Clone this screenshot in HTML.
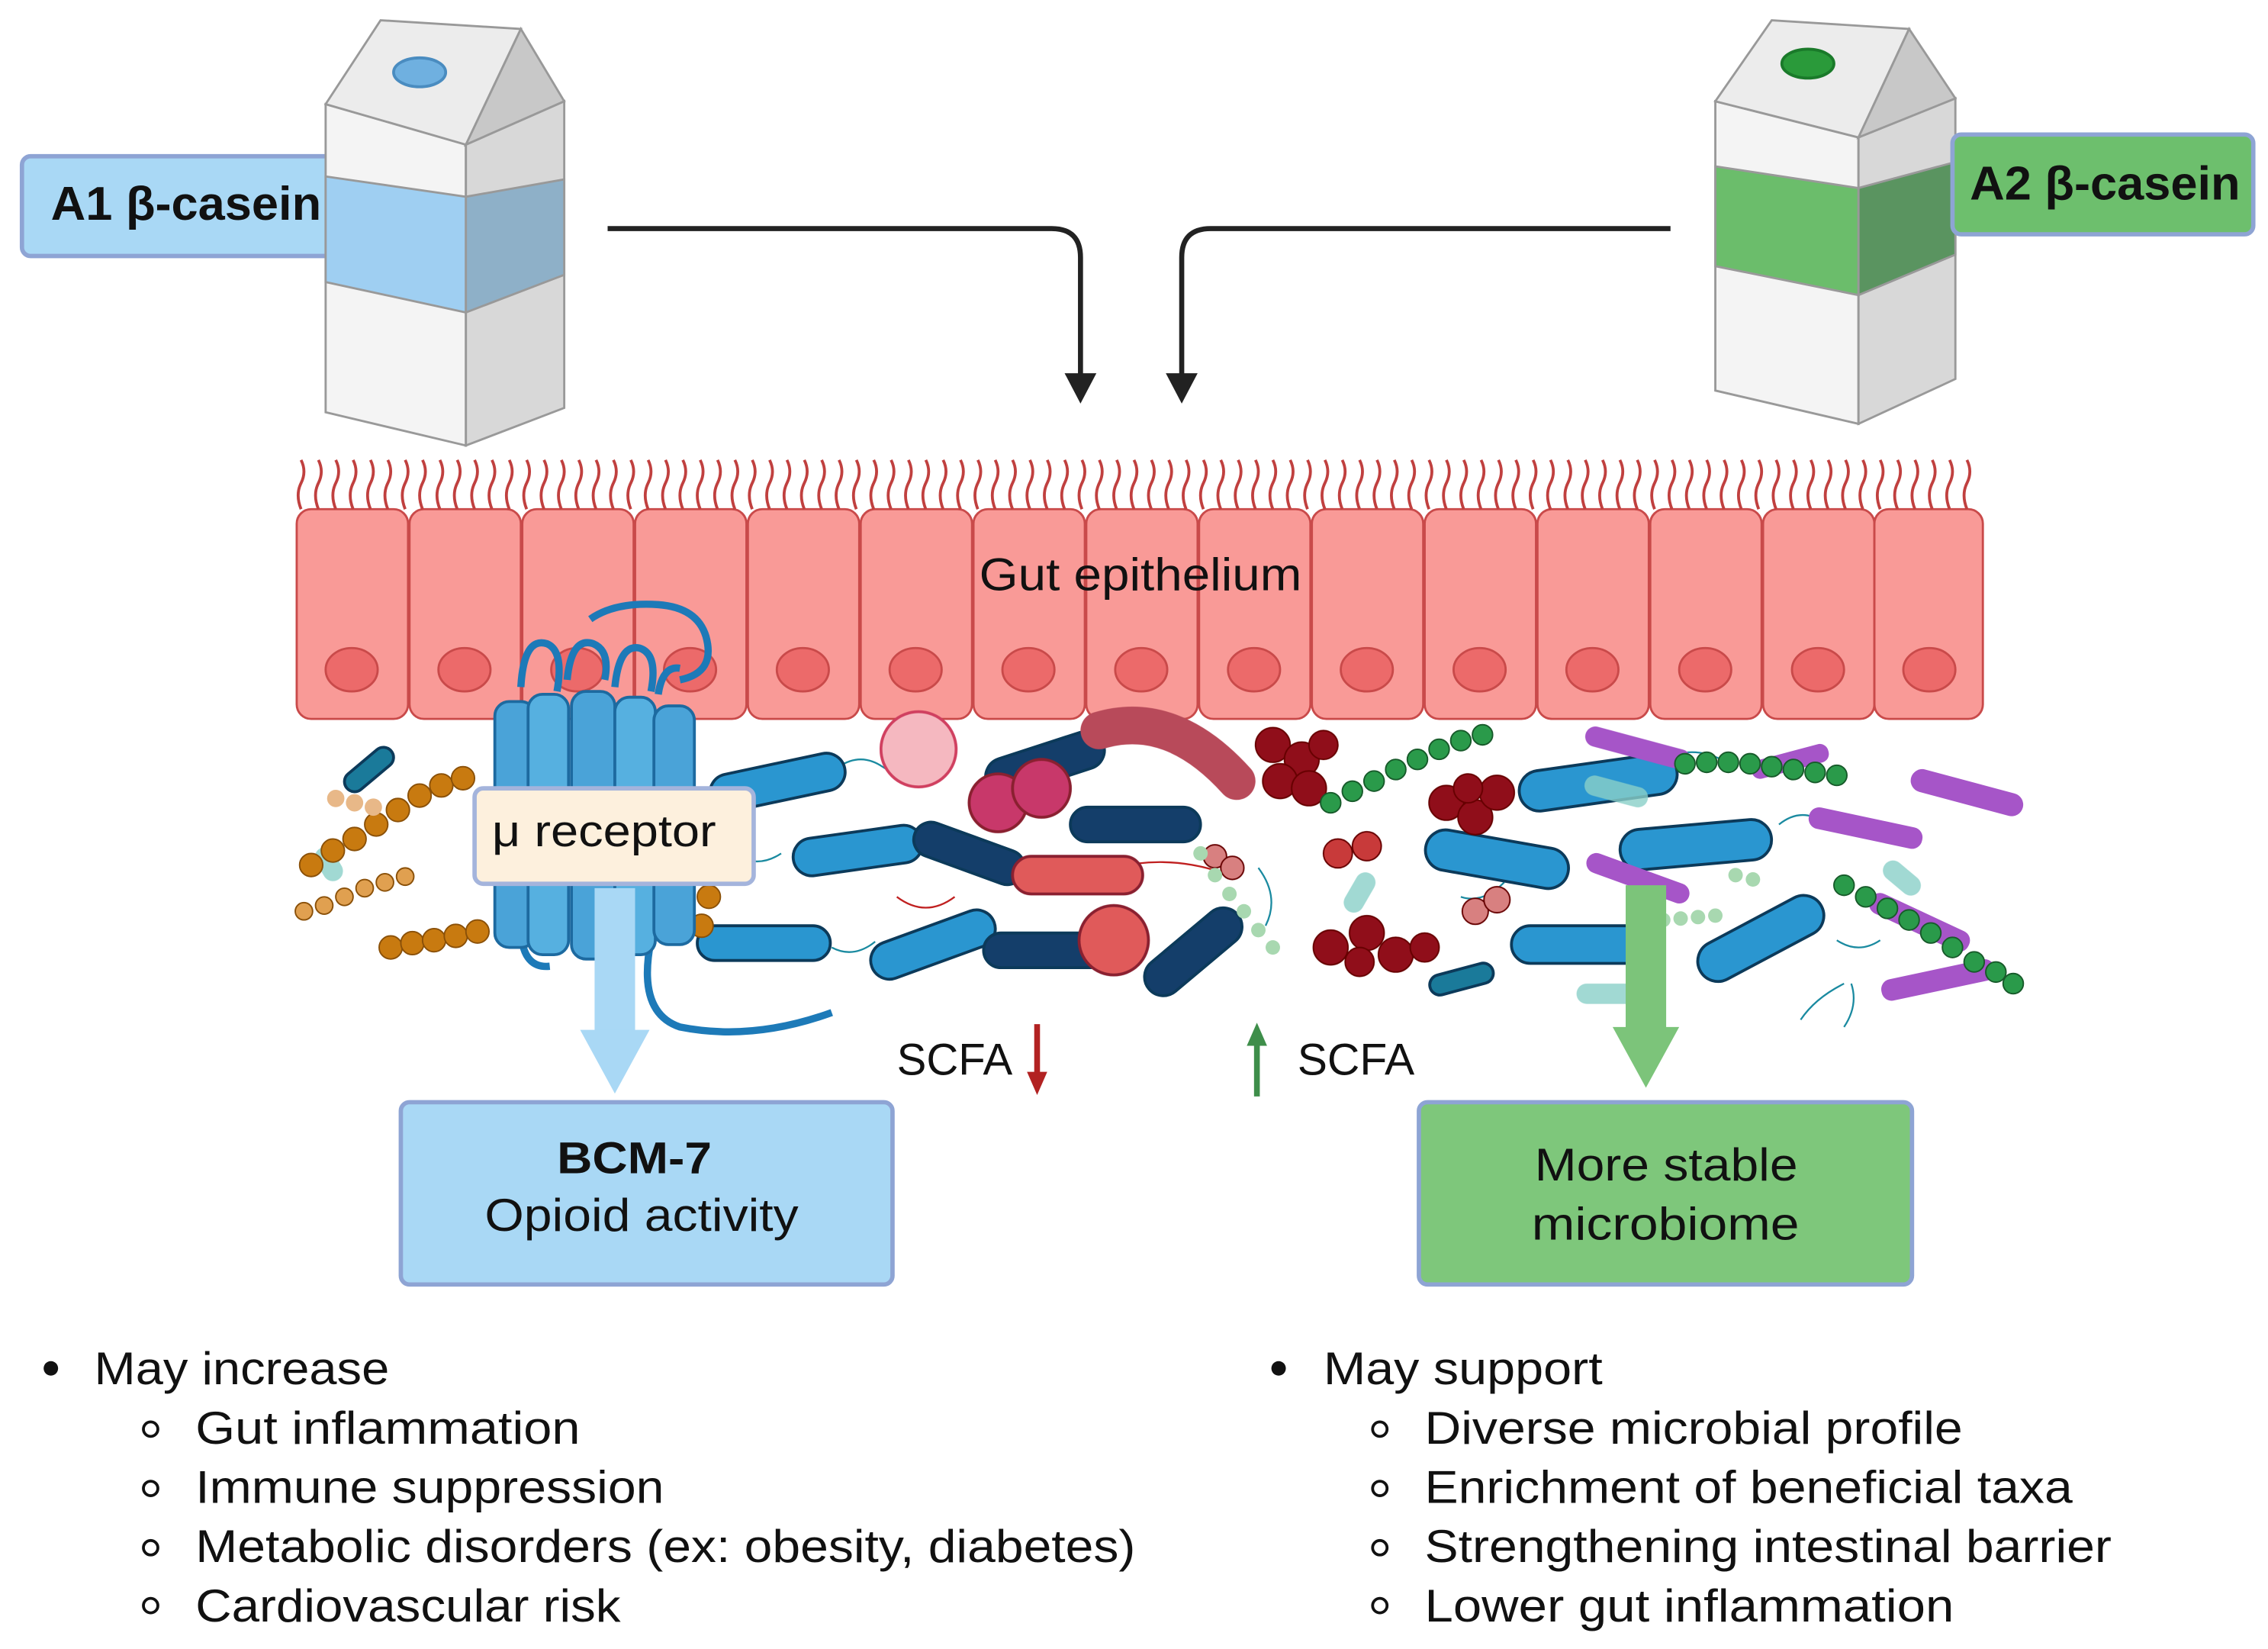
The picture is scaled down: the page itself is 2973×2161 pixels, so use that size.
<!DOCTYPE html>
<html><head><meta charset="utf-8"><style>
html,body{margin:0;padding:0;background:#fff}
svg{display:block}
text{font-family:"Liberation Sans",sans-serif;fill:#111}
</style></head><body>
<svg width="2973" height="2161" viewBox="0 0 1568 1140" xmlns="http://www.w3.org/2000/svg">
<rect width="1568" height="1140" fill="#fff"/>

<!-- A1 label -->
<rect x="15" y="108" width="225" height="69" rx="6" fill="#a9d8f5" stroke="#8ea4d4" stroke-width="3"/>
<text x="35" y="152" font-size="33" font-weight="bold" textLength="187" lengthAdjust="spacingAndGlyphs">A1 β-casein</text>

<!-- Left carton -->
<g stroke="#999" stroke-width="1.5">
<polygon points="225,72 322,100 322,308 225,285" fill="#f4f4f4"/>
<polygon points="322,100 390,70 390,282 322,308" fill="#d8d8d8"/>
<polygon points="225,72 263,14 360,20 322,100" fill="#ececec"/>
<polygon points="322,100 360,20 390,70" fill="#c8c8c8"/>
<polygon points="225,122 322,136 322,216 225,195" fill="#9fcff2"/>
<polygon points="322,136 390,124 390,190 322,216" fill="#8eb0c8"/>
</g>
<ellipse cx="290" cy="50" rx="18" ry="10" fill="#6fb0e0" stroke="#4a8cc0" stroke-width="2"/>

<!-- Right carton -->
<g stroke="#999" stroke-width="1.5">
<polygon points="1186,70 1285,95 1285,293 1186,270" fill="#f4f4f4"/>
<polygon points="1285,95 1352,68 1352,262 1285,293" fill="#d8d8d8"/>
<polygon points="1186,70 1225,14 1320,20 1285,95" fill="#ececec"/>
<polygon points="1285,95 1320,20 1352,68" fill="#c8c8c8"/>
<polygon points="1186,115 1285,130 1285,204 1186,184" fill="#6bbd6b"/>
<polygon points="1285,130 1352,112 1352,176 1285,204" fill="#5a9460"/>
</g>
<ellipse cx="1250" cy="44" rx="18" ry="10" fill="#2a9a3a" stroke="#1a7a2a" stroke-width="2"/>

<!-- A2 label -->
<rect x="1350" y="93" width="208" height="69" rx="6" fill="#6dbf6d" stroke="#8ea4d4" stroke-width="3"/>
<text x="1362" y="138" font-size="33" font-weight="bold" textLength="187" lengthAdjust="spacingAndGlyphs">A2 β-casein</text>

<!-- Arrows from cartons -->
<path d="M420,158 H727 Q747,158 747,178 V262" fill="none" stroke="#222" stroke-width="3.5"/>
<polygon points="736,258 758,258 747,279" fill="#222"/>
<path d="M1155,158 H837 Q817,158 817,178 V262" fill="none" stroke="#222" stroke-width="3.5"/>
<polygon points="806,258 828,258 817,279" fill="#222"/>

<!-- Cells -->
<g stroke="#c94a4a" stroke-width="1.5">
<rect x="205" y="352" width="77" height="145" rx="10" fill="#f99a97"/>
<rect x="283" y="352" width="77" height="145" rx="10" fill="#f99a97"/>
<rect x="361" y="352" width="77" height="145" rx="10" fill="#f99a97"/>
<rect x="439" y="352" width="77" height="145" rx="10" fill="#f99a97"/>
<rect x="517" y="352" width="77" height="145" rx="10" fill="#f99a97"/>
<rect x="595" y="352" width="77" height="145" rx="10" fill="#f99a97"/>
<rect x="673" y="352" width="77" height="145" rx="10" fill="#f99a97"/>
<rect x="751" y="352" width="77" height="145" rx="10" fill="#f99a97"/>
<rect x="829" y="352" width="77" height="145" rx="10" fill="#f99a97"/>
<rect x="907" y="352" width="77" height="145" rx="10" fill="#f99a97"/>
<rect x="985" y="352" width="77" height="145" rx="10" fill="#f99a97"/>
<rect x="1063" y="352" width="77" height="145" rx="10" fill="#f99a97"/>
<rect x="1141" y="352" width="77" height="145" rx="10" fill="#f99a97"/>
<rect x="1219" y="352" width="77" height="145" rx="10" fill="#f99a97"/>
<rect x="1296" y="352" width="75" height="145" rx="10" fill="#f99a97"/>
<g fill="#ec6a6a">
<ellipse cx="243" cy="463" rx="18" ry="15"/><ellipse cx="321" cy="463" rx="18" ry="15"/><ellipse cx="399" cy="463" rx="18" ry="15"/><ellipse cx="477" cy="463" rx="18" ry="15"/><ellipse cx="555" cy="463" rx="18" ry="15"/><ellipse cx="633" cy="463" rx="18" ry="15"/><ellipse cx="711" cy="463" rx="18" ry="15"/><ellipse cx="789" cy="463" rx="18" ry="15"/><ellipse cx="867" cy="463" rx="18" ry="15"/><ellipse cx="945" cy="463" rx="18" ry="15"/><ellipse cx="1023" cy="463" rx="18" ry="15"/><ellipse cx="1101" cy="463" rx="18" ry="15"/><ellipse cx="1179" cy="463" rx="18" ry="15"/><ellipse cx="1257" cy="463" rx="18" ry="15"/><ellipse cx="1334" cy="463" rx="18" ry="15"/>
</g>
</g>
<path stroke="#c0403f" stroke-width="2" fill="none" d="M208,352 q-4,-10 0,-18 q4,-8 0,-16 M220,352 q-4,-10 0,-18 q4,-8 0,-16 M232,352 q-4,-10 0,-18 q4,-8 0,-16 M244,352 q-4,-10 0,-18 q4,-8 0,-16 M256,352 q-4,-10 0,-18 q4,-8 0,-16 M268,352 q-4,-10 0,-18 q4,-8 0,-16 M280,352 q-4,-10 0,-18 q4,-8 0,-16 M292,352 q-4,-10 0,-18 q4,-8 0,-16 M304,352 q-4,-10 0,-18 q4,-8 0,-16 M316,352 q-4,-10 0,-18 q4,-8 0,-16 M328,352 q-4,-10 0,-18 q4,-8 0,-16 M340,352 q-4,-10 0,-18 q4,-8 0,-16 M352,352 q-4,-10 0,-18 q4,-8 0,-16 M364,352 q-4,-10 0,-18 q4,-8 0,-16 M376,352 q-4,-10 0,-18 q4,-8 0,-16 M388,352 q-4,-10 0,-18 q4,-8 0,-16 M400,352 q-4,-10 0,-18 q4,-8 0,-16 M412,352 q-4,-10 0,-18 q4,-8 0,-16 M424,352 q-4,-10 0,-18 q4,-8 0,-16 M436,352 q-4,-10 0,-18 q4,-8 0,-16 M448,352 q-4,-10 0,-18 q4,-8 0,-16 M460,352 q-4,-10 0,-18 q4,-8 0,-16 M472,352 q-4,-10 0,-18 q4,-8 0,-16 M484,352 q-4,-10 0,-18 q4,-8 0,-16 M496,352 q-4,-10 0,-18 q4,-8 0,-16 M508,352 q-4,-10 0,-18 q4,-8 0,-16 M520,352 q-4,-10 0,-18 q4,-8 0,-16 M532,352 q-4,-10 0,-18 q4,-8 0,-16 M544,352 q-4,-10 0,-18 q4,-8 0,-16 M556,352 q-4,-10 0,-18 q4,-8 0,-16 M568,352 q-4,-10 0,-18 q4,-8 0,-16 M580,352 q-4,-10 0,-18 q4,-8 0,-16 M592,352 q-4,-10 0,-18 q4,-8 0,-16 M604,352 q-4,-10 0,-18 q4,-8 0,-16 M616,352 q-4,-10 0,-18 q4,-8 0,-16 M628,352 q-4,-10 0,-18 q4,-8 0,-16 M640,352 q-4,-10 0,-18 q4,-8 0,-16 M652,352 q-4,-10 0,-18 q4,-8 0,-16 M664,352 q-4,-10 0,-18 q4,-8 0,-16 M676,352 q-4,-10 0,-18 q4,-8 0,-16 M688,352 q-4,-10 0,-18 q4,-8 0,-16 M700,352 q-4,-10 0,-18 q4,-8 0,-16 M712,352 q-4,-10 0,-18 q4,-8 0,-16 M724,352 q-4,-10 0,-18 q4,-8 0,-16 M736,352 q-4,-10 0,-18 q4,-8 0,-16 M748,352 q-4,-10 0,-18 q4,-8 0,-16 M760,352 q-4,-10 0,-18 q4,-8 0,-16 M772,352 q-4,-10 0,-18 q4,-8 0,-16 M784,352 q-4,-10 0,-18 q4,-8 0,-16 M796,352 q-4,-10 0,-18 q4,-8 0,-16 M808,352 q-4,-10 0,-18 q4,-8 0,-16 M820,352 q-4,-10 0,-18 q4,-8 0,-16 M832,352 q-4,-10 0,-18 q4,-8 0,-16 M844,352 q-4,-10 0,-18 q4,-8 0,-16 M856,352 q-4,-10 0,-18 q4,-8 0,-16 M868,352 q-4,-10 0,-18 q4,-8 0,-16 M880,352 q-4,-10 0,-18 q4,-8 0,-16 M892,352 q-4,-10 0,-18 q4,-8 0,-16 M904,352 q-4,-10 0,-18 q4,-8 0,-16 M916,352 q-4,-10 0,-18 q4,-8 0,-16 M928,352 q-4,-10 0,-18 q4,-8 0,-16 M940,352 q-4,-10 0,-18 q4,-8 0,-16 M952,352 q-4,-10 0,-18 q4,-8 0,-16 M964,352 q-4,-10 0,-18 q4,-8 0,-16 M976,352 q-4,-10 0,-18 q4,-8 0,-16 M988,352 q-4,-10 0,-18 q4,-8 0,-16 M1000,352 q-4,-10 0,-18 q4,-8 0,-16 M1012,352 q-4,-10 0,-18 q4,-8 0,-16 M1024,352 q-4,-10 0,-18 q4,-8 0,-16 M1036,352 q-4,-10 0,-18 q4,-8 0,-16 M1048,352 q-4,-10 0,-18 q4,-8 0,-16 M1060,352 q-4,-10 0,-18 q4,-8 0,-16 M1072,352 q-4,-10 0,-18 q4,-8 0,-16 M1084,352 q-4,-10 0,-18 q4,-8 0,-16 M1096,352 q-4,-10 0,-18 q4,-8 0,-16 M1108,352 q-4,-10 0,-18 q4,-8 0,-16 M1120,352 q-4,-10 0,-18 q4,-8 0,-16 M1132,352 q-4,-10 0,-18 q4,-8 0,-16 M1144,352 q-4,-10 0,-18 q4,-8 0,-16 M1156,352 q-4,-10 0,-18 q4,-8 0,-16 M1168,352 q-4,-10 0,-18 q4,-8 0,-16 M1180,352 q-4,-10 0,-18 q4,-8 0,-16 M1192,352 q-4,-10 0,-18 q4,-8 0,-16 M1204,352 q-4,-10 0,-18 q4,-8 0,-16 M1216,352 q-4,-10 0,-18 q4,-8 0,-16 M1228,352 q-4,-10 0,-18 q4,-8 0,-16 M1240,352 q-4,-10 0,-18 q4,-8 0,-16 M1252,352 q-4,-10 0,-18 q4,-8 0,-16 M1264,352 q-4,-10 0,-18 q4,-8 0,-16 M1276,352 q-4,-10 0,-18 q4,-8 0,-16 M1288,352 q-4,-10 0,-18 q4,-8 0,-16 M1300,352 q-4,-10 0,-18 q4,-8 0,-16 M1312,352 q-4,-10 0,-18 q4,-8 0,-16 M1324,352 q-4,-10 0,-18 q4,-8 0,-16 M1336,352 q-4,-10 0,-18 q4,-8 0,-16 M1348,352 q-4,-10 0,-18 q4,-8 0,-16 M1360,352 q-4,-10 0,-18 q4,-8 0,-16"/>
<text x="677" y="408" font-size="32" textLength="223" lengthAdjust="spacingAndGlyphs">Gut epithelium</text>

<!-- bacteria -->
<g stroke="#1a8aa0" stroke-width="1.2" fill="none">
<path d="M580,530 q15,-10 30,0 q15,10 30,-2 M540,590 q-15,10 -30,2 M575,655 q15,8 30,-4 M1150,525 q20,-10 40,0 M1230,570 q15,-12 30,-2 M1270,650 q15,10 30,0 M1040,610 q-15,15 -30,10 M1280,680 q5,15 -5,30 M1275,680 q-20,10 -30,25 M870,600 q15,20 5,40"/>
<path d="M690,600 q40,10 80,0 q40,-10 80,5 M620,620 q20,15 40,0" stroke="#c02020"/>
</g>
<g stroke="#0c3a5a" stroke-width="2">
<rect x="490" y="528" width="95" height="26" rx="13" fill="#2a96d0" transform="rotate(-12 537 541)"/>
<rect x="548" y="575" width="90" height="26" rx="13" fill="#2a96d0" transform="rotate(-8 593 588)"/>
<rect x="482" y="640" width="92" height="24" rx="12" fill="#2a96d0"/>
<rect x="600" y="640" width="90" height="26" rx="13" fill="#2a96d0" transform="rotate(-20 645 653)"/>
<rect x="985" y="580" width="100" height="28" rx="14" fill="#2a96d0" transform="rotate(10 1035 594)"/>
<rect x="1050" y="527" width="110" height="28" rx="14" fill="#2a96d0" transform="rotate(-8 1105 541)"/>
<rect x="1120" y="570" width="105" height="28" rx="14" fill="#2a96d0" transform="rotate(-5 1172 584)"/>
<rect x="1045" y="640" width="100" height="26" rx="13" fill="#2a96d0"/>
<rect x="1170" y="635" width="95" height="28" rx="14" fill="#2a96d0" transform="rotate(-28 1217 649)"/>
<rect x="235" y="525" width="40" height="14" rx="7" fill="#1a7a9a" transform="rotate(-40 255 532)"/>
<rect x="988" y="670" width="45" height="14" rx="7" fill="#1a7a9a" transform="rotate(-15 1010 677)"/>
<rect x="680" y="515" width="85" height="26" rx="13" fill="#143e6a" transform="rotate(-18 722 528)"/>
<rect x="740" y="558" width="90" height="24" rx="12" fill="#143e6a"/>
<rect x="630" y="578" width="80" height="24" rx="12" fill="#143e6a" transform="rotate(20 670 590)"/>
<rect x="680" y="645" width="85" height="24" rx="12" fill="#143e6a"/>
<rect x="785" y="645" width="80" height="26" rx="13" fill="#143e6a" transform="rotate(-40 825 658)"/>
</g>
<g fill="#8ad0c8" opacity="0.8">
<rect x="215" y="590" width="25" height="14" rx="7" transform="rotate(60 227 597)"/>
<rect x="1095" y="540" width="45" height="14" rx="7" transform="rotate(15 1117 547)"/>
<rect x="1090" y="680" width="45" height="14" rx="7"/>
<rect x="1300" y="600" width="30" height="14" rx="7" transform="rotate(40 1315 607)"/>
<rect x="925" y="610" width="30" height="14" rx="7" transform="rotate(-60 940 617)"/>
</g>
<g stroke="#8a2030" stroke-width="2">
<path d="M760,505 Q810,490 855,540" stroke="#b84a5a" stroke-width="26" stroke-linecap="round" fill="none"/>
<rect x="700" y="592" width="90" height="26" rx="13" fill="#e05a5a"/>
<circle cx="770" cy="650" r="24" fill="#e05a5a"/>
<circle cx="690" cy="555" r="20" fill="#c8386a"/>
<circle cx="720" cy="545" r="20" fill="#c8386a"/>
<circle cx="635" cy="518" r="26" fill="#f5b8c0" stroke="#d04060"/>
</g>
<g fill="#900e1a" stroke="#600" stroke-width="1">
<circle cx="880" cy="515" r="12"/><circle cx="900" cy="525" r="12"/><circle cx="885" cy="540" r="12"/><circle cx="905" cy="545" r="12"/><circle cx="915" cy="515" r="10"/>
<circle cx="1000" cy="555" r="12"/><circle cx="1020" cy="565" r="12"/><circle cx="1035" cy="548" r="12"/><circle cx="1015" cy="545" r="10"/>
<circle cx="920" cy="655" r="12"/><circle cx="945" cy="645" r="12"/><circle cx="965" cy="660" r="12"/><circle cx="940" cy="665" r="10"/><circle cx="985" cy="655" r="10"/>
<circle cx="925" cy="590" r="10" fill="#c83a3a"/><circle cx="945" cy="585" r="10" fill="#c83a3a"/>
<circle cx="1020" cy="630" r="9" fill="#d88080"/><circle cx="1035" cy="622" r="9" fill="#d88080"/><circle cx="840" cy="592" r="8" fill="#d88080"/><circle cx="852" cy="600" r="8" fill="#d88080"/>
</g>
<g fill="#a655c8" stroke="none">
<rect x="1095" y="510" width="75" height="14" rx="7" transform="rotate(15 1132 517)"/>
<rect x="1320" y="540" width="80" height="16" rx="8" transform="rotate(15 1360 548)"/>
<rect x="1250" y="565" width="80" height="15" rx="7" transform="rotate(12 1290 572)"/>
<rect x="1290" y="630" width="75" height="15" rx="7" transform="rotate(25 1327 637)"/>
<rect x="1300" y="670" width="80" height="15" rx="7" transform="rotate(-12 1340 677)"/>
<rect x="1095" y="600" width="75" height="14" rx="7" transform="rotate(20 1132 607)"/>
<rect x="1210" y="520" width="55" height="13" rx="6" transform="rotate(-15 1237 526)"/>
</g>
<g fill="#2a9a4a" stroke="#175a2a" stroke-width="1">
<circle cx="920" cy="555" r="7"/><circle cx="935" cy="547" r="7"/><circle cx="950" cy="540" r="7"/><circle cx="965" cy="532" r="7"/><circle cx="980" cy="525" r="7"/><circle cx="995" cy="518" r="7"/><circle cx="1010" cy="512" r="7"/><circle cx="1025" cy="508" r="7"/>
<circle cx="1165" cy="528" r="7"/><circle cx="1180" cy="527" r="7"/><circle cx="1195" cy="527" r="7"/><circle cx="1210" cy="528" r="7"/><circle cx="1225" cy="530" r="7"/><circle cx="1240" cy="532" r="7"/><circle cx="1255" cy="534" r="7"/><circle cx="1270" cy="536" r="7"/>
<circle cx="1275" cy="612" r="7"/><circle cx="1290" cy="620" r="7"/><circle cx="1305" cy="628" r="7"/><circle cx="1320" cy="636" r="7"/><circle cx="1335" cy="645" r="7"/><circle cx="1350" cy="655" r="7"/><circle cx="1365" cy="665" r="7"/><circle cx="1380" cy="672" r="7"/><circle cx="1392" cy="680" r="7"/>
</g>
<g fill="#a8d8b0"><circle cx="830" cy="590" r="5"/><circle cx="840" cy="605" r="5"/><circle cx="850" cy="618" r="5"/><circle cx="860" cy="630" r="5"/><circle cx="870" cy="643" r="5"/><circle cx="880" cy="655" r="5"/>
<circle cx="1150" cy="636" r="5"/><circle cx="1162" cy="635" r="5"/><circle cx="1174" cy="634" r="5"/><circle cx="1186" cy="633" r="5"/><circle cx="1200" cy="605" r="5"/><circle cx="1212" cy="608" r="5"/></g>
<g fill="#c87a10" stroke="#8a5008" stroke-width="1">
<circle cx="215" cy="598" r="8"/><circle cx="230" cy="588" r="8"/><circle cx="245" cy="580" r="8"/><circle cx="260" cy="570" r="8"/><circle cx="275" cy="560" r="8"/><circle cx="290" cy="550" r="8"/><circle cx="305" cy="543" r="8"/><circle cx="320" cy="538" r="8"/>
<circle cx="270" cy="655" r="8"/><circle cx="285" cy="652" r="8"/><circle cx="300" cy="650" r="8"/><circle cx="315" cy="647" r="8"/><circle cx="330" cy="644" r="8"/>
<circle cx="210" cy="630" r="6" fill="#e0a050"/><circle cx="224" cy="626" r="6" fill="#e0a050"/><circle cx="238" cy="620" r="6" fill="#e0a050"/><circle cx="252" cy="614" r="6" fill="#e0a050"/><circle cx="266" cy="610" r="6" fill="#e0a050"/><circle cx="280" cy="606" r="6" fill="#e0a050"/>
<circle cx="485" cy="640" r="8"/><circle cx="490" cy="620" r="8"/>
<circle cx="232" cy="552" r="6" fill="#e8b888" stroke="none"/><circle cx="245" cy="555" r="6" fill="#e8b888" stroke="none"/><circle cx="258" cy="558" r="6" fill="#e8b888" stroke="none"/>
</g>

<!-- receptor (on top of cells) -->
<g stroke="#1d6aa0" stroke-width="2" fill="#4aa3d8">
<path d="M360,475 Q362,440 378,445 Q390,450 385,478 M392,470 Q395,440 410,445 Q422,450 418,470 M425,475 Q428,445 442,448 Q455,452 450,478 M455,480 Q458,460 470,462" fill="none" stroke="#1d7ab8" stroke-width="5"/>
<path d="M470,470 Q495,465 488,440 Q482,420 455,418 Q425,416 408,428" fill="none" stroke="#1d7ab8" stroke-width="5"/>
<path d="M450,650 Q440,700 470,710 Q520,720 575,700" fill="none" stroke="#1d7ab8" stroke-width="5"/>
<path d="M360,640 Q360,670 380,668" fill="none" stroke="#1d7ab8" stroke-width="5"/>
<rect x="342" y="485" width="28" height="170" rx="10"/>
<rect x="365" y="480" width="28" height="180" rx="10" fill="#56b0e0"/>
<rect x="395" y="478" width="30" height="185" rx="10"/>
<rect x="425" y="482" width="28" height="178" rx="10" fill="#56b0e0"/>
<rect x="452" y="488" width="28" height="165" rx="10"/>
</g>
<rect x="328" y="545" width="193" height="66" rx="6" fill="#fdf0dd" stroke="#a4b4dc" stroke-width="3"/>
<text x="340" y="585" font-size="31" textLength="155" lengthAdjust="spacingAndGlyphs">μ receptor</text>

<!-- light blue arrow -->
<rect x="411" y="614" width="28" height="100" fill="#a9d8f5"/>
<polygon points="401,712 449,712 425,756" fill="#a9d8f5"/>

<!-- BCM-7 box -->
<rect x="277" y="762" width="340" height="126" rx="6" fill="#a9d8f5" stroke="#8ea4d4" stroke-width="3"/>
<text x="385" y="811" font-size="31" font-weight="bold" textLength="107" lengthAdjust="spacingAndGlyphs">BCM-7</text>
<text x="335" y="851" font-size="32" textLength="217" lengthAdjust="spacingAndGlyphs">Opioid activity</text>

<!-- SCFA -->
<text x="620" y="743" font-size="31" textLength="80" lengthAdjust="spacingAndGlyphs">SCFA</text>
<line x1="717" y1="708" x2="717" y2="745" stroke="#b22222" stroke-width="4"/>
<polygon points="710,741 724,741 717,757" fill="#b22222"/>
<line x1="869" y1="720" x2="869" y2="758" stroke="#3e8e4a" stroke-width="4"/>
<polygon points="862,723 876,723 869,707" fill="#3e8e4a"/>
<text x="897" y="743" font-size="31" textLength="81" lengthAdjust="spacingAndGlyphs">SCFA</text>

<!-- green arrow -->
<rect x="1124" y="612" width="28" height="100" fill="#7cc47a"/>
<polygon points="1115,710 1161,710 1138,752" fill="#7cc47a"/>

<!-- green box -->
<rect x="981" y="762" width="341" height="126" rx="6" fill="#7ec77b" stroke="#8ea4d4" stroke-width="3"/>
<text x="1061" y="816" font-size="32" textLength="182" lengthAdjust="spacingAndGlyphs">More stable</text>
<text x="1059" y="857" font-size="32" textLength="185" lengthAdjust="spacingAndGlyphs">microbiome</text>

<!-- bullets -->
<circle cx="35" cy="946" r="5" fill="#111"/>
<text x="65" y="957" font-size="32" textLength="204" lengthAdjust="spacingAndGlyphs">May increase</text>
<g fill="none" stroke="#111" stroke-width="2">
<circle cx="104" cy="988" r="5"/><circle cx="104" cy="1029" r="5"/><circle cx="104" cy="1070" r="5"/><circle cx="104" cy="1110" r="5"/>
<circle cx="954" cy="988" r="5"/><circle cx="954" cy="1029" r="5"/><circle cx="954" cy="1070" r="5"/><circle cx="954" cy="1110" r="5"/>
</g>
<text x="135" y="998" font-size="32" textLength="266" lengthAdjust="spacingAndGlyphs">Gut inflammation</text>
<text x="135" y="1039" font-size="32" textLength="324" lengthAdjust="spacingAndGlyphs">Immune suppression</text>
<text x="135" y="1080" font-size="32" textLength="650" lengthAdjust="spacingAndGlyphs">Metabolic disorders (ex: obesity, diabetes)</text>
<text x="135" y="1121" font-size="32" textLength="294" lengthAdjust="spacingAndGlyphs">Cardiovascular risk</text>

<circle cx="884" cy="946" r="5" fill="#111"/>
<text x="915" y="957" font-size="32" textLength="193" lengthAdjust="spacingAndGlyphs">May support</text>
<text x="985" y="998" font-size="32" textLength="372" lengthAdjust="spacingAndGlyphs">Diverse microbial profile</text>
<text x="985" y="1039" font-size="32" textLength="448" lengthAdjust="spacingAndGlyphs">Enrichment of beneficial taxa</text>
<text x="985" y="1080" font-size="32" textLength="475" lengthAdjust="spacingAndGlyphs">Strengthening intestinal barrier</text>
<text x="985" y="1121" font-size="32" textLength="366" lengthAdjust="spacingAndGlyphs">Lower gut inflammation</text>
</svg>
</body></html>
